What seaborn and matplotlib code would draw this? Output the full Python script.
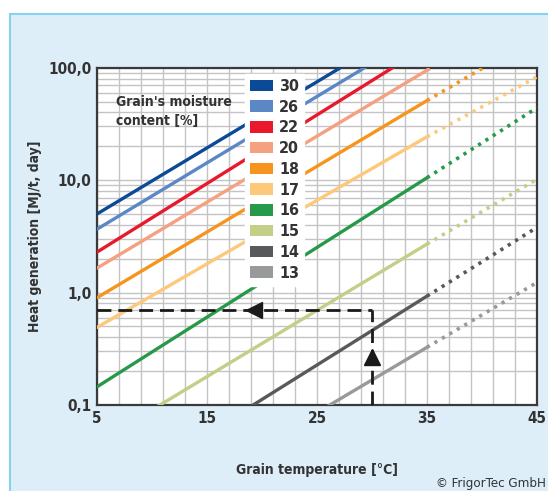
import numpy as np
import pandas as pd
import seaborn as sns
import matplotlib.pyplot as plt
from matplotlib.patches import Patch, Rectangle
from matplotlib.ticker import FixedLocator, NullFormatter, LogLocator

# grain moisture content [%] and line colours
moisture = [30, 26, 22, 20, 18, 17, 16, 15, 14, 13]
colors = ['#0b4a97', '#5b87c7', '#e8192c', '#f4a081', '#f7941d',
          '#fec87a', '#27994a', '#c3cf86', '#58595b', '#98999b']

# heat generation [MJ/t, day] at 5, 35 and 45 degC
heat_5 = [5.0, 3.66, 2.29, 1.65, 0.90, 0.49, 0.145, 0.046, 0.0135, 0.0059]
heat_35 = [290, 216, 155, 95, 51, 24.3, 10.5, 2.7, 0.93, 0.326]
heat_45 = [1150, 840, 630, 367, 190, 83, 44, 10.2, 3.8, 1.23]

# example reading: 30 degC -> 0.7 MJ/t, day
ex_temp = 30
ex_heat = 0.7

x_ticks = [5, 15, 25, 35, 45]
y_ticks = [0.1, 1, 10, 100]
y_labels = ['0,1', '1,0', '10,0', '100,0']

sns.set_style('white')
plt.rcParams['font.family'] = ['DejaVu Sans']
plt.rcParams['font.stretch'] = 'condensed'
txt = '#333333'

solid = pd.DataFrame({
    'temp': [5] * len(moisture) + [35] * len(moisture),
    'heat': heat_5 + heat_35,
    'moisture': moisture * 2,
})
dotted = pd.DataFrame({
    'temp': [35] * len(moisture) + [45] * len(moisture),
    'heat': heat_35 + heat_45,
    'moisture': moisture * 2,
})
pal = dict(zip(moisture, colors))

fig = plt.figure(figsize=(5.48, 4.91), dpi=100)
fig.patch.set_facecolor('white')
bg = Rectangle((10 / 548, -0.1), 1.2, 1.1 - 14 / 491,
               transform=fig.transFigure, facecolor='#ddeef9',
               edgecolor='#86d3f0', linewidth=1.5, zorder=-10)
fig.patches.append(bg)

ax = fig.add_axes([97 / 548, 1 - 405 / 491, 440 / 548, 337.3 / 491])
ax.set_zorder(1)
ax.set_facecolor('white')
ax.set_yscale('log')
ax.set_xlim(5, 45)
ax.set_ylim(0.1, 100)

# grid
ax.xaxis.set_major_locator(FixedLocator(x_ticks))
ax.xaxis.set_minor_locator(FixedLocator(np.arange(5, 46, 2)))
ax.yaxis.set_major_locator(FixedLocator(y_ticks))
ax.yaxis.set_minor_locator(LogLocator(base=10, subs=np.arange(2, 10)))
ax.yaxis.set_minor_formatter(NullFormatter())
ax.grid(which='both', color='#c4c4c4', linewidth=1.0)
ax.set_axisbelow(True)

sns.lineplot(data=solid, x='temp', y='heat', hue='moisture', palette=pal,
             linewidth=2.4, legend=False, ax=ax, zorder=3)
sns.lineplot(data=dotted, x='temp', y='heat', hue='moisture', palette=pal,
             linewidth=2.6, linestyle=(0, (0.9, 1.5)), legend=False, ax=ax, zorder=3)

# example reading with arrows
ax.plot([5, ex_temp], [ex_heat, ex_heat], color='#1a1a1a', lw=2,
        dashes=(5, 2.5), zorder=4)
ax.plot([ex_temp, ex_temp], [0.1, ex_heat], color='#1a1a1a', lw=2,
        dashes=(5, 2.5), zorder=4)
ax.plot([ex_temp], [0.27], marker='^', markersize=11, color='#1a1a1a', zorder=5)
ax.plot([19.3], [ex_heat], marker='<', markersize=11, color='#1a1a1a', zorder=5)

for s in ax.spines.values():
    s.set_color('#3a3a3a')
    s.set_linewidth(1.6)

ax.set_xticks(x_ticks)
ax.set_xticklabels([str(t) for t in x_ticks])
ax.set_yticks(y_ticks)
ax.set_yticklabels(y_labels)
ax.tick_params(which='both', length=0, labelsize=11, labelcolor=txt, pad=4)
for lab in ax.get_xticklabels() + ax.get_yticklabels():
    lab.set_fontweight('bold')
ax.set_xlabel('')
ax.set_ylabel('')

ax.text(6.7, 41, "Grain's moisture\ncontent [%]", fontsize=10, fontweight='bold',
        color=txt, va='center', ha='left', linespacing=1.45, zorder=6)

handles = [Patch(facecolor=c, edgecolor='none') for c in colors]
leg = ax.legend(handles, [str(m) for m in moisture], loc='upper left',
                bbox_to_anchor=(0.325, 0.995), frameon=True, facecolor='white',
                edgecolor='white', framealpha=1, fancybox=False,
                handlelength=1.45, handleheight=0.75, labelspacing=0.36,
                handletextpad=0.4, borderpad=0.3, borderaxespad=0.3,
                prop={'weight': 'bold', 'size': 11.5, 'stretch': 'condensed'})
leg.set_zorder(6)
for t in leg.get_texts():
    t.set_color(txt)

fig.text(35 / 548, 1 - 236 / 491, 'Heat generation [MJ/t, day]', rotation=90,
         fontsize=10, fontweight='bold', color=txt, ha='center', va='center')
fig.text(317 / 548, 1 - 470 / 491, 'Grain temperature [°C]', fontsize=10,
         fontweight='bold', color=txt, ha='center', va='center')
fig.text(546 / 548, 1 - 483 / 491, '© FrigorTec GmbH', fontsize=9.5,
         color=txt, ha='right', va='center')

fig.savefig('out.png', dpi=100)
